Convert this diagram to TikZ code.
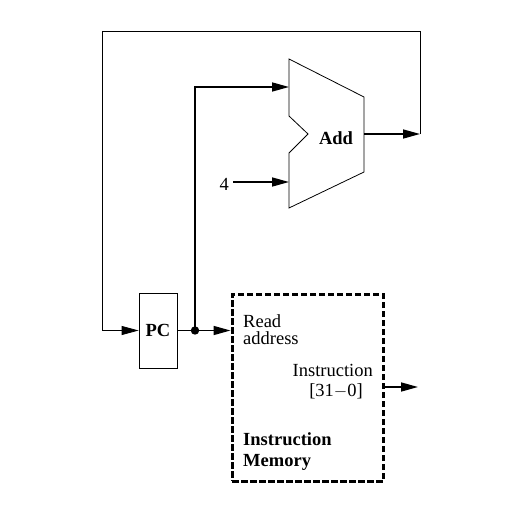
\documentclass[tikz,border=0pt]{standalone}
\usepackage{fontspec}
\setmainfont{Liberation Serif}
\usetikzlibrary{arrows.meta}

\begin{document}
\begin{tikzpicture}[x=1pt, y=-1pt,
				   wire/.style={line width=1.6pt, -{Triangle[length=17pt,width=9pt]}},
				   thinwire/.style={line width=0.8pt, -{Triangle[length=17pt,width=9pt]}},
				   every node/.style={inner sep=0pt, font=\fontsize{18.5}{20}\selectfont}]
\useasboundingbox (0,0) rectangle (507,508);
% adder outline
\draw[line width=0.8pt] (289,59) -- (364,97) -- (364,172) -- (289,208) -- (289,153)
	-- (308,134) -- (289,116) -- cycle;
\node[font=\fontsize{18.5}{20}\selectfont\bfseries] (add) at (336,138) {Add};
\coordinate (addA) at (289,87);
\coordinate (addB) at (289,182);
\coordinate (addout) at (364,134);
\coordinate (loopR) at (420,134);
\node[anchor=east] (four) at (229,184) {4};
% PC and memory
\node[draw, line width=0.8pt, minimum width=38pt, minimum height=75pt] (pc) at (158,330.5)
	{\fontsize{18.5}{20}\selectfont\bfseries PC};
\node[draw, line width=3pt, dash pattern=on 6.5pt off 2.5pt, minimum width=151pt, minimum height=187pt] (mem) at (307.5,387.5) {};
\node[anchor=north west, align=left, font=\fontsize{18.5}{17.5}\selectfont] (rdaddr) at (243,314) {Read\\address};
\node[anchor=north east, align=right] (instr) at (373,364) {Instruction\\{[31$-$0]}\kern10pt};
\node[anchor=north west, align=left, font=\fontsize{18.5}{21}\selectfont\bfseries] (imem) at (243,432) {Instruction\\Memory};
\coordinate (pcin) at (pc.west);
\coordinate (memin) at (mem.west |- pc.east);
\coordinate (memout) at (418,387);
\coordinate (split) at (195,330.5);
\fill (split) circle (4.2pt);
% connectors
\draw[wire] (pc.east) -- (memin);
\draw[wire] (split) |- (addA);
\draw[wire] (addB -| 233,0) -- (addB);
\draw[wire] (addout) -- (loopR);
\draw[line width=0.8pt] (loopR) |- (102,31) coordinate (loopL);
\draw[thinwire] (loopL) |- (pcin);
\draw[wire] (mem.east |- memout) -- (memout);
\end{tikzpicture}
\end{document}
